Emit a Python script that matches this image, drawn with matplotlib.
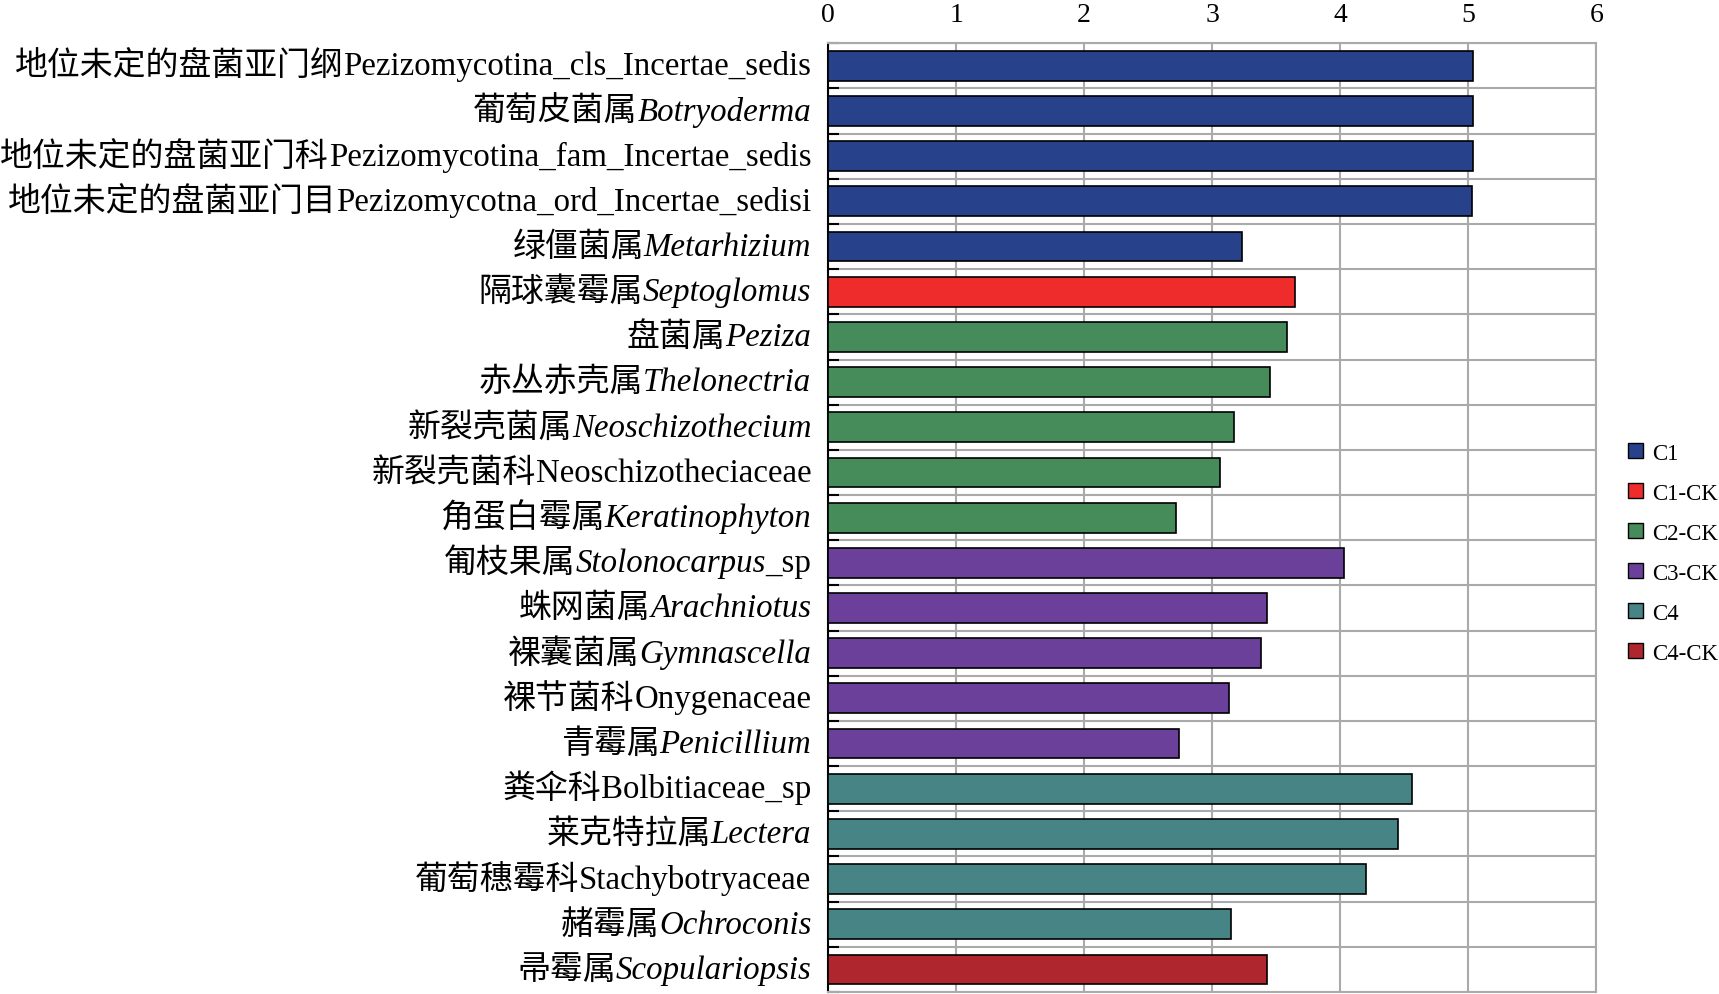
import matplotlib
matplotlib.use('Agg')
import matplotlib.pyplot as plt
import numpy as np
from matplotlib.patches import Patch
from matplotlib.offsetbox import TextArea, HPacker, AnnotationBbox

# 类群名称（中文 + 拉丁名），拉丁名是否斜体，以及后缀
cn_names = ['地位未定的盘菌亚门纲', '葡萄皮菌属', '地位未定的盘菌亚门科', '地位未定的盘菌亚门目',
            '绿僵菌属', '隔球囊霉属', '盘菌属', '赤丛赤壳属', '新裂壳菌属', '新裂壳菌科',
            '角蛋白霉属', '匍枝果属', '蛛网菌属', '裸囊菌属', '裸节菌科', '青霉属',
            '粪伞科', '莱克特拉属', '葡萄穗霉科', '赭霉属', '帚霉属']
latin_names = ['Pezizomycotina_cls_Incertae_sedis', 'Botryoderma', 'Pezizomycotina_fam_Incertae_sedis',
               'Pezizomycotna_ord_Incertae_sedisi', 'Metarhizium', 'Septoglomus', 'Peziza',
               'Thelonectria', 'Neoschizothecium', 'Neoschizotheciaceae', 'Keratinophyton',
               'Stolonocarpus', 'Arachniotus', 'Gymnascella', 'Onygenaceae', 'Penicillium',
               'Bolbitiaceae_sp', 'Lectera', 'Stachybotryaceae', 'Ochroconis', 'Scopulariopsis']
italic = [False, True, False, False, True, True, True, True, True, False, True,
          True, True, True, False, True, False, True, False, True, True]
suffix = ['', '', '', '', '', '', '', '', '', '', '', '_sp', '', '', '', '', '', '', '', '', '']
lda = [5.04, 5.04, 5.04, 5.03, 3.23, 3.65, 3.58, 3.45, 3.17, 3.06, 2.72,
       4.03, 3.43, 3.38, 3.13, 2.74, 4.56, 4.45, 4.20, 3.15, 3.43]
group = ['C1', 'C1', 'C1', 'C1', 'C1', 'C1-CK', 'C2-CK', 'C2-CK', 'C2-CK', 'C2-CK', 'C2-CK',
         'C3-CK', 'C3-CK', 'C3-CK', 'C3-CK', 'C3-CK', 'C4', 'C4', 'C4', 'C4', 'C4-CK']
group_names = ['C1', 'C1-CK', 'C2-CK', 'C3-CK', 'C4', 'C4-CK']
group_colors = {'C1': '#27418A', 'C1-CK': '#EE2C2C', 'C2-CK': '#468B5A',
                'C3-CK': '#6B409A', 'C4': '#478485', 'C4-CK': '#B0262E'}

fam = ['Liberation Serif', 'Noto Sans CJK SC']
plt.rcParams['font.family'] = fam

fig = plt.figure(figsize=(17.19, 9.95), dpi=100)
ax = fig.add_axes([0.4817, 0.002, 0.447, 0.9535])

y = np.arange(len(lda))
ax.barh(y, lda, height=0.66, color=[group_colors[g] for g in group],
        edgecolor='black', linewidth=1.2, zorder=3)

ax.set_xlim(0, 6)
ax.set_ylim(len(lda) - 0.5, -0.5)
ax.xaxis.tick_top()
ax.set_xticks(range(7))
ax.tick_params(axis='x', length=0, labelsize=20, pad=11.5)
for t in ax.get_xticklabels():
    t.set_family(fam)
ax.set_yticks(np.arange(-0.5, len(lda)))
ax.set_yticklabels([])
ax.tick_params(axis='y', direction='in', length=8, width=1.5, color='black')
ax.grid(True, color='#AAAAAA', linewidth=1.5, zorder=0)
ax.set_axisbelow(True)
for s in ['top', 'right', 'bottom']:
    ax.spines[s].set_color('#AAAAAA')
    ax.spines[s].set_linewidth(1.5)
ax.spines['left'].set_color('black')
ax.spines['left'].set_linewidth(1.5)

fs = 23.7
for i in range(len(lda)):
    parts = [TextArea(cn_names[i], textprops=dict(fontsize=fs, family=fam))]
    parts.append(TextArea(latin_names[i], textprops=dict(fontsize=fs, family=fam,
                                                         fontstyle='italic' if italic[i] else 'normal')))
    if suffix[i]:
        parts.append(TextArea(suffix[i], textprops=dict(fontsize=fs, family=fam)))
    box = HPacker(children=parts, align='baseline', pad=0, sep=0)
    ab = AnnotationBbox(box, (0, i), xycoords=('axes fraction', 'data'),
                        xybox=(-12, 0), boxcoords='offset points',
                        box_alignment=(1, 0.5), frameon=False, pad=0,
                        annotation_clip=False)
    ax.add_artist(ab)

handles = [Patch(facecolor=group_colors[g], edgecolor='black', linewidth=1) for g in group_names]
fig.legend(handles, group_names, loc='center left', bbox_to_anchor=(0.942, 0.443),
           frameon=False, handlelength=0.62, handleheight=0.62,
           handletextpad=0.4, labelspacing=0.83, borderaxespad=0,
           prop={'family': fam, 'size': 16.5})

fig.savefig('out.png', dpi=100)
